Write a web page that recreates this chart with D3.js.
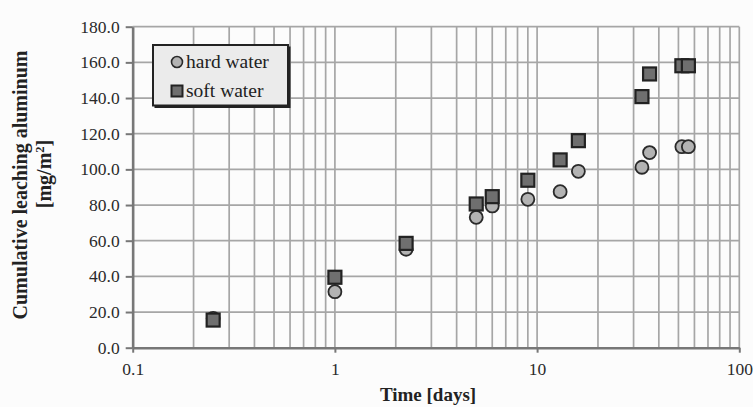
<!DOCTYPE html>
<html>
<head>
<meta charset="utf-8">
<script src="https://cdn.jsdelivr.net/npm/d3@7"></script>
<style>
  body { margin: 0; background: #fcfcfc; }
  svg { display: block; font-family: "Liberation Serif", "Times New Roman", serif; }
</style>
</head>
<body>
<svg id="chart"></svg>
<script>
const days = [0.25, 1, 2.25, 5, 6, 9, 13, 16, 33, 36, 52, 56];
const hardWater = [16.5, 31.4, 55.2, 73.1, 79.5, 83.2, 87.5, 98.9, 101.2, 109.4, 112.7, 112.7];
const softWater = [15.5, 39.5, 58.5, 80.6, 84.7, 93.9, 105.3, 116.1, 140.8, 153.5, 158.1, 158.1];
const yTicks = [0, 20, 40, 60, 80, 100, 120, 140, 160, 180];
const xTicks = [0.1, 1, 10, 100];

const width = 753, height = 407;
const plotLeft = 132.7, plotRight = 739.3, plotTop = 26.7, plotBottom = 347.7;

const svg = d3.select('#chart').attr('width', width).attr('height', height);

const xScale = d3.scaleLog().domain([0.1, 100]).range([plotLeft, plotRight]);
const yScale = d3.scaleLinear().domain([0, 180]).range([plotBottom, plotTop]);

// minor + major vertical grid
let xGrid = [];
xTicks.slice(0, -1).forEach(d => { for (let k = 1; k <= 9; k++) xGrid.push(d * k) });
xGrid.push(100);
svg.append('g').selectAll('line').data(xGrid).enter().append('line')
  .attr('x1', d => xScale(d)).attr('x2', d => xScale(d))
  .attr('y1', plotTop).attr('y2', plotBottom)
  .attr('stroke', '#a6a6a6').attr('stroke-width', 1.7);
svg.append('g').selectAll('line').data(yTicks.slice(1)).enter().append('line')
  .attr('x1', plotLeft).attr('x2', plotRight)
  .attr('y1', d => yScale(d)).attr('y2', d => yScale(d))
  .attr('stroke', '#a6a6a6').attr('stroke-width', 1.7);

// axes
const xAxis = d3.axisBottom(xScale).tickValues(xTicks).tickFormat(d => d3.format('~g')(d))
  .tickSizeInner(5).tickSizeOuter(0).tickPadding(10);
const yAxis = d3.axisLeft(yScale).tickValues(yTicks).tickFormat(d3.format('.1f'))
  .tickSizeInner(7).tickSizeOuter(0).tickPadding(6);

const gx = svg.append('g').attr('transform', `translate(0,${plotBottom})`).call(xAxis);
const gy = svg.append('g').attr('transform', `translate(${plotLeft},0)`).call(yAxis);
[gx, gy].forEach(g => {
  g.select('.domain').attr('stroke', '#777').attr('stroke-width', 2.5);
  g.selectAll('.tick line').attr('stroke', '#777').attr('stroke-width', 2);
  g.selectAll('.tick text').attr('font-family', '"Liberation Serif", serif')
    .attr('font-size', 17.5).attr('fill', '#2a2a2a');
});

// markers
svg.append('g').selectAll('circle').data(days).enter().append('circle')
  .attr('cx', d => xScale(d)).attr('cy', (d, i) => yScale(hardWater[i]))
  .attr('r', 6.5).attr('fill', '#b3b3b3').attr('stroke', '#2a2a2a').attr('stroke-width', 1.8);
const sq = 13;
svg.append('g').selectAll('rect').data(days).enter().append('rect')
  .attr('x', d => xScale(d) - sq / 2).attr('y', (d, i) => yScale(softWater[i]) - sq / 2)
  .attr('width', sq).attr('height', sq)
  .attr('fill', '#6f6f6f').attr('stroke', '#222').attr('stroke-width', 2.2);

// legend
const lg = svg.append('g');
lg.append('rect').attr('x', 154.5).attr('y', 46.5).attr('width', 136).attr('height', 61.5).attr('fill', '#222');
lg.append('rect').attr('x', 153).attr('y', 45).attr('width', 135).attr('height', 60.5)
  .attr('fill', '#ebebeb').attr('stroke', '#222').attr('stroke-width', 2);
lg.append('circle').attr('cx', 177).attr('cy', 62).attr('r', 5.5)
  .attr('fill', '#b3b3b3').attr('stroke', '#2a2a2a').attr('stroke-width', 1.6);
lg.append('rect').attr('x', 171.5).attr('y', 85.5).attr('width', 11).attr('height', 11)
  .attr('fill', '#6f6f6f').attr('stroke', '#222').attr('stroke-width', 2);
lg.append('text').attr('x', 186).attr('y', 68).attr('font-size', 19.5).attr('fill', '#222').text('hard water');
lg.append('text').attr('x', 186).attr('y', 97).attr('font-size', 19.5).attr('fill', '#222').text('soft water');

// titles
svg.append('text').attr('x', (plotLeft + plotRight) / 2 - 8).attr('y', 401)
  .attr('text-anchor', 'middle').attr('font-weight', 'bold').attr('font-size', 19)
  .attr('fill', '#222').text('Time [days]');
const yt = svg.append('text').attr('transform', 'translate(27,185) rotate(-90)')
  .attr('text-anchor', 'middle').attr('font-weight', 'bold').attr('font-size', 20).attr('fill', '#222');
yt.append('tspan').attr('x', 0).attr('y', 0).text('Cumulative leaching aluminum');
const yt2 = svg.append('text').attr('transform', 'translate(51,174) rotate(-90)')
  .attr('text-anchor', 'middle').attr('font-weight', 'bold').attr('font-size', 20).attr('fill', '#222');
yt2.append('tspan').text('[mg/m');
yt2.append('tspan').attr('font-size', 12.5).attr('dy', -7).text('2');
yt2.append('tspan').attr('dy', 7).text(']');
</script>
</body>
</html>
